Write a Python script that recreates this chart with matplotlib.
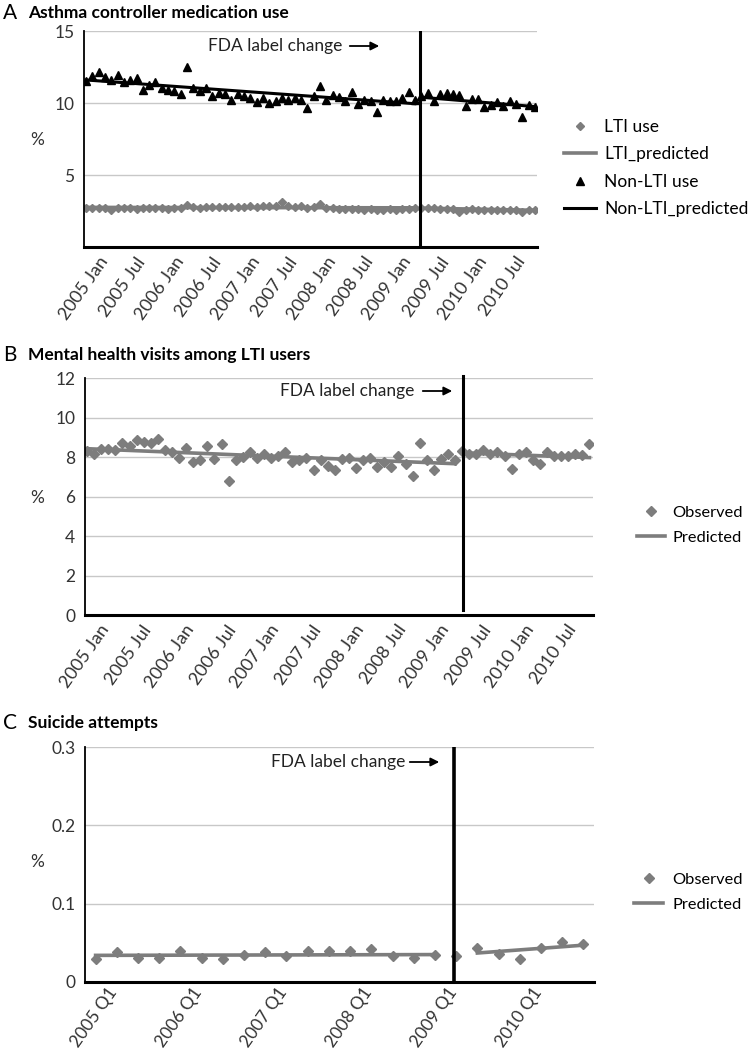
import numpy as np
import matplotlib
matplotlib.use("Agg")
import matplotlib.pyplot as plt
from matplotlib.transforms import ScaledTranslation
from matplotlib.patches import FancyArrowPatch

plt.rcParams["font.family"] = ["Lato", "DejaVu Sans"]

# ---- data -------------------------------------------------------------
month_labels = ["2005 Jan", "2005 Jul", "2006 Jan", "2006 Jul", "2007 Jan", "2007 Jul",
                "2008 Jan", "2008 Jul", "2009 Jan", "2009 Jul", "2010 Jan", "2010 Jul"]
quarter_labels = ["2005 Q1", "2006 Q1", "2007 Q1", "2008 Q1", "2009 Q1", "2010 Q1"]

# Panel A: asthma controller medication use (%), monthly 2005 Jan - 2010 Dec
lti_use = [2.72, 2.74, 2.70, 2.72, 2.60, 2.70, 2.72, 2.68, 2.62, 2.72, 2.70, 2.74,
           2.70, 2.66, 2.72, 2.68, 2.95, 2.76, 2.74, 2.76, 2.78, 2.75, 2.78, 2.80,
           2.76, 2.78, 2.82, 2.80, 2.84, 2.82, 2.86, 3.10, 2.84, 2.80, 2.86, 2.72,
           2.80, 3.00, 2.70, 2.68, 2.66, 2.62, 2.66, 2.64, 2.60, 2.62, 2.58, 2.60,
           2.62, 2.60, 2.64, 2.66, 2.68, 2.74, 2.70, 2.68, 2.66, 2.64, 2.62, 2.45,
           2.60, 2.64, 2.58, 2.56, 2.60, 2.58, 2.56, 2.58, 2.55, 2.40, 2.56, 2.58]
non_lti_use = [11.55, 11.85, 12.15, 11.80, 11.62, 11.97, 11.43, 11.62, 11.74, 10.93,
               11.23, 11.43, 11.04, 10.93, 10.81, 10.65, 12.50, 11.02, 10.86, 11.04,
               10.51, 10.69, 10.65, 10.19, 10.65, 10.51, 10.32, 10.09, 10.35, 10.00,
               10.12, 10.35, 10.19, 10.35, 10.23, 9.65, 10.51, 11.16, 10.19, 10.56,
               10.42, 10.16, 10.79, 9.95, 10.23, 10.12, 9.35, 10.19, 10.12, 10.12,
               10.32, 10.74, 10.19, 10.50, 10.67, 10.14, 10.63, 10.67, 10.63, 10.55,
               9.80, 10.30, 10.30, 9.75, 9.86, 10.05, 9.80, 10.12, 9.93, 9.05,
               9.84, 9.75]
seg_pre_m = [0, 52]
seg_post_m = [53, 71]
lti_pred_pre = [2.75, 2.72]
lti_pred_post = [2.70, 2.55]
non_lti_pred_pre = [11.60, 9.95]
non_lti_pred_post = [10.40, 9.75]

# Panel B: mental health visits among LTI users (%), monthly
mh_obs = [8.30, 8.15, 8.42, 8.42, 8.34, 8.73, 8.54, 8.88, 8.76, 8.71, 8.90, 8.37,
          8.24, 7.93, 8.47, 7.76, 7.83, 8.58, 7.90, 8.64, 6.81, 7.83, 8.00, 8.24,
          7.93, 8.17, 7.97, 8.03, 8.27, 7.73, 7.83, 7.93, 7.32, 7.83, 7.53, 7.32,
          7.90, 7.93, 7.42, 7.86, 7.93, 7.49, 7.76, 7.49, 8.07, 7.66, 7.02, 8.71,
          7.83, 7.36, 7.90, 8.17, 7.83, 8.30, 8.17, 8.17, 8.37, 8.17, 8.24, 8.03,
          7.39, 8.14, 8.27, 7.83, 7.66, 8.24, 8.07, 8.07, 8.07, 8.14, 8.10, 8.66]
mh_seg_pre = [0, 52]
mh_seg_post = [54, 71]
mh_pred_pre = [8.42, 7.66]
mh_pred_post = [8.20, 7.97]

# Panel C: suicide attempts (%), quarterly 2005 Q1 - 2010 Q4
sa_obs = [0.030, 0.038, 0.031, 0.031, 0.039, 0.031, 0.030, 0.034, 0.038, 0.033,
          0.039, 0.040, 0.039, 0.042, 0.033, 0.031, 0.034, 0.033, 0.043, 0.036,
          0.029, 0.043, 0.051, 0.049]
sa_seg_pre = [0, 16]
sa_seg_post = [18, 23]
sa_pred_pre = [0.034, 0.035]
sa_pred_post = [0.037, 0.047]

# ---- figure -----------------------------------------------------------
W, H = 749, 1050
GREY = "#7d7d7d"
FS = 12.5
fig = plt.figure(figsize=(W / 100, H / 100), dpi=100)


def px(x, y):
    return x / W, 1 - y / H


def panel(l, t, r, b):
    ax = fig.add_axes([l / W, 1 - b / H, (r - l) / W, (b - t) / H])
    for s in ("top", "right"):
        ax.spines[s].set_visible(False)
    ax.spines["left"].set_linewidth(1.3)
    ax.spines["bottom"].set_linewidth(2.2)
    ax.yaxis.grid(True, color="#c8c8c8", linewidth=1.0)
    ax.set_axisbelow(True)
    ax.tick_params(length=0, labelsize=FS, colors="#333333")
    ax.tick_params(axis="y", pad=7)
    return ax


def set_xlabels(ax, pos, labels, dy=-3):
    ax.set_xticks(pos)
    ax.set_xticklabels(labels, rotation=55, ha="right", va="top",
                       rotation_mode="anchor", fontsize=13)
    ax.tick_params(axis="x", pad=3)
    shift = ScaledTranslation(12 / 100, dy / 100, fig.dpi_scale_trans)
    for lbl in ax.get_xticklabels():
        lbl.set_transform(lbl.get_transform() + shift)


def heading(letter, text, y):
    fig.text(*px(3, y), letter, fontsize=15, va="center", ha="left")
    fig.text(*px(28, y), text, fontsize=FS, fontweight="bold", va="center", ha="left")


def fda(x0, x1, x2, y):
    fig.text(*px(x0, y), "FDA label change", fontsize=FS, va="center", ha="left",
             color="#222222")
    fig.add_artist(FancyArrowPatch(
        px(x1, y), px(x2, y), transform=fig.transFigure,
        arrowstyle="-|>,head_length=5,head_width=2.5", color="black", lw=1.3))


def legend(ax, x, y, hl, tp, fs=FS):
    ax.legend(loc="center left", bbox_to_anchor=px(x, y), bbox_transform=fig.transFigure,
              frameon=False, fontsize=fs, handlelength=hl, handletextpad=tp,
              labelspacing=0.66, borderpad=0, borderaxespad=0)


def ylab(y):
    fig.text(*px(37, y), "%", fontsize=FS, ha="center", va="center", color="#333333")


months = np.arange(72)
quarters = np.arange(24)

# Panel A
heading("A", "Asthma controller medication use", 13)
axA = panel(84, 31, 537, 247)
axA.plot(months, lti_use, ls="none", marker="D", ms=4.2, color=GREY, label="LTI use")
axA.plot(seg_pre_m, lti_pred_pre, color=GREY, lw=2.6, label="LTI_predicted")
axA.plot(seg_post_m, lti_pred_post, color=GREY, lw=2.6)
axA.plot(months, non_lti_use, ls="none", marker="^", ms=6, color="black", label="Non-LTI use")
axA.plot(seg_pre_m, non_lti_pred_pre, color="black", lw=2.2, label="Non-LTI_predicted")
axA.plot(seg_post_m, non_lti_pred_post, color="black", lw=2.2)
axA.axvline(52.8, color="black", lw=2.2)
axA.set_xlim(-0.3, 71.3)
axA.set_ylim(0, 15)
axA.set_yticks([5, 10, 15])
set_xlabels(axA, months[::6], month_labels)
ylab(140)
fda(208, 347, 382, 46)
legend(axA, 564, 168, 1.84, 0.46)

# Panel B
heading("B", "Mental health visits among LTI users", 355)
axB = panel(85, 378, 593, 615)
axB.plot(months, mh_obs, ls="none", marker="D", ms=4.6, color=GREY, label="Observed")
axB.plot(mh_seg_pre, mh_pred_pre, color=GREY, lw=2.6, label="Predicted")
axB.plot(mh_seg_post, mh_pred_post, color=GREY, lw=2.6)
axB.axvline(53.1, ymin=0.02, ymax=1.01, color="black", lw=2.2, clip_on=False)
axB.set_xlim(-0.3, 71.5)
axB.set_ylim(0, 12)
axB.set_yticks(np.arange(0, 13, 2))
set_xlabels(axB, months[::6], month_labels)
ylab(498)
fda(280, 420, 455, 391)
legend(axB, 637, 525, 1.73, 0.45, fs=11.8)

# Panel C
heading("C", "Suicide attempts", 723)
axC = panel(85, 747, 594, 982)
axC.plot(quarters, sa_obs, ls="none", marker="D", ms=4.6, color=GREY, label="Observed")
axC.plot(sa_seg_pre, sa_pred_pre, color=GREY, lw=2.6, label="Predicted")
axC.plot(sa_seg_post, sa_pred_post, color=GREY, lw=2.6)
axC.axvline(16.9, color="black", lw=2.6)
axC.set_xlim(-0.5, 23.5)
axC.set_ylim(0, 0.3)
axC.set_yticks([0, 0.1, 0.2, 0.3])
axC.set_yticklabels(["0", "0.1", "0.2", "0.3"])
set_xlabels(axC, quarters[::4], quarter_labels, dy=1)
for lbl in axC.get_xticklabels():
    lbl.set_fontsize(12.5)
ylab(862)
fda(271, 407, 442, 762)
legend(axC, 634, 892, 1.79, 0.55, fs=11.8)

fig.savefig("out.png", dpi=100)
